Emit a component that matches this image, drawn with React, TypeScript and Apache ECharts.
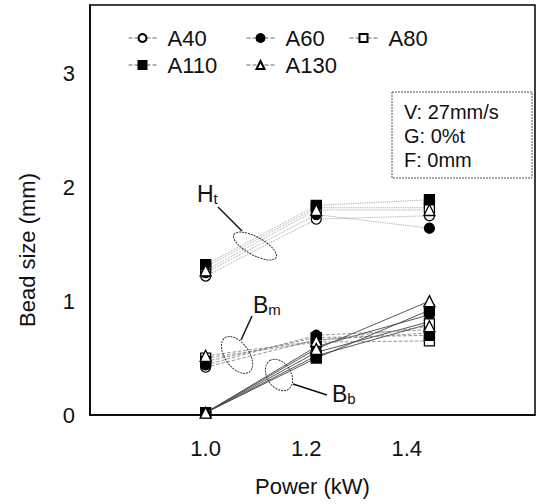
import React, { useEffect, useRef } from "react";
import * as echarts from "echarts";

const powers = [1.0, 1.22, 1.445];
const sampleNames = ["A40", "A60", "A80", "A110", "A130"];
const xTicks = [1.0, 1.2, 1.4];
const yTicks = [0, 1, 2, 3];
// rows follow sampleNames, columns follow powers
const htValues = [
  [1.22, 1.72, 1.75],
  [1.25, 1.76, 1.64],
  [1.3, 1.82, 1.82],
  [1.32, 1.84, 1.89],
  [1.27, 1.8, 1.8],
];
const bmValues = [
  [0.42, 0.66, 0.72],
  [0.44, 0.7, 0.75],
  [0.5, 0.64, 0.65],
  [0.47, 0.68, 0.7],
  [0.52, 0.65, 0.78],
];
const bbValues = [
  [0.02, 0.55, 0.82],
  [0.02, 0.6, 0.88],
  [0.02, 0.52, 0.8],
  [0.02, 0.5, 0.92],
  [0.02, 0.58, 1.0],
];
const boxLines = ["V: 27mm/s", "G: 0%t", "F: 0mm"];

const symbols = ["circle", "circle", "rect", "rect", "triangle"];
const fills = ["#fff", "#000", "#fff", "#000", "#fff"];
const FONT = "Liberation Sans";

export default function App() {
  const ref = useRef<HTMLDivElement>(null);
  useEffect(() => {
    if (!ref.current) return;
    const chart = echarts.init(ref.current, null, { renderer: "svg" });
    const groups = [
      { vals: htValues, color: "#9a9a9a", type: "dotted" },
      { vals: bmValues, color: "#888", type: "dashed" },
      { vals: bbValues, color: "#444", type: "solid" },
    ];
    const series: any[] = [];
    groups.forEach((g) => {
      sampleNames.forEach((name, s) => {
        series.push({
          name,
          type: "line",
          data: powers.map((p, i) => [p, g.vals[s][i]]),
          symbol: symbols[s],
          symbolSize: s === 4 ? 11 : 10,
          itemStyle: { color: fills[s], borderColor: "#000", borderWidth: 1.3 },
          lineStyle: { color: g.color, width: 0.9, type: g.type },
          z: 2 + s,
        });
      });
    });
    const legendPos = [
      { left: 123, top: 22 },
      { left: 241, top: 22 },
      { left: 344, top: 22 },
      { left: 123, top: 49 },
      { left: 241, top: 49 },
    ];
    const legend = sampleNames.map((n, i) => ({
      data: [n],
      left: legendPos[i].left,
      top: legendPos[i].top,
      itemWidth: 28,
      itemHeight: 10,
      itemGap: 8,
      textStyle: { fontFamily: FONT, fontSize: 22, color: "#111", padding: [0, 0, 0, 6] },
      lineStyle: { color: "#666", width: 1, type: "dashed" },
    }));
    chart.setOption({
      animation: false,
      backgroundColor: "#fff",
      grid: {
        left: 90,
        right: 5,
        top: 5,
        bottom: 89,
        show: true,
        borderColor: "#000",
        borderWidth: 1.5,
        backgroundColor: "transparent",
      },
      legend,
      xAxis: {
        type: "value",
        min: 0.77,
        max: 1.655,
        name: "Power (kW)",
        nameLocation: "middle",
        nameGap: 60,
        nameTextStyle: { fontFamily: FONT, fontSize: 22, color: "#111" },
        axisLine: { show: true, lineStyle: { color: "#000", width: 1.5 } },
        axisTick: { show: false },
        splitLine: { show: false },
        axisLabel: {
          customValues: xTicks,
          formatter: (v: number) => v.toFixed(1),
          fontFamily: FONT,
          fontSize: 22,
          color: "#111",
          margin: 22,
        },
      },
      yAxis: {
        type: "value",
        min: 0,
        max: 3.6,
        axisLine: { show: true, lineStyle: { color: "#000", width: 1.5 } },
        axisTick: { show: false },
        splitLine: { show: false },
        axisLabel: {
          customValues: yTicks,
          fontFamily: FONT,
          fontSize: 22,
          color: "#111",
          margin: 15,
        },
      },
      series,
      graphic: [
        {
          type: "text",
          x: 27,
          y: 250,
          rotation: Math.PI / 2,
          style: {
            text: "Bead size (mm)",
            fontFamily: FONT,
            fontSize: 22,
            fill: "#111",
            align: "center",
            verticalAlign: "middle",
          },
          z: 21,
        },
        {
          type: "rect",
          shape: { x: 392, y: 92, width: 140, height: 86 },
          style: { fill: "#fff", stroke: "#555", lineWidth: 1, lineDash: [2, 1] },
          z: 20,
        },
        ...boxLines.map((t, i) => ({
          type: "text",
          x: 404,
          y: 112 + i * 24,
          style: {
            text: t,
            fontFamily: FONT,
            fontSize: 20,
            fill: "#111",
            verticalAlign: "middle",
          },
          z: 21,
        })),
        {
          type: "text",
          x: 197,
          y: 194,
          style: {
            text: "{a|H}{b|t}",
            rich: {
              a: { fontFamily: FONT, fontSize: 23, fill: "#111", verticalAlign: "bottom" },
              b: { fontFamily: FONT, fontSize: 15, fill: "#111", verticalAlign: "bottom" },
            },
            verticalAlign: "middle",
          },
          z: 21,
        },
        { type: "line", shape: { x1: 218, y1: 207, x2: 242, y2: 231 }, style: { stroke: "#111", lineWidth: 1.5 }, z: 21 },
        {
          type: "ellipse",
          x: 255,
          y: 246,
          rotation: -0.5,
          shape: { cx: 0, cy: 0, rx: 24, ry: 9 },
          style: { fill: "none", stroke: "#333", lineWidth: 1, lineDash: [2, 1] },
          z: 21,
        },
        {
          type: "text",
          x: 253,
          y: 305,
          style: {
            text: "{a|B}{b|m}",
            rich: {
              a: { fontFamily: FONT, fontSize: 23, fill: "#111", verticalAlign: "bottom" },
              b: { fontFamily: FONT, fontSize: 15, fill: "#111", verticalAlign: "bottom" },
            },
            verticalAlign: "middle",
          },
          z: 21,
        },
        { type: "line", shape: { x1: 252, y1: 316, x2: 241, y2: 340 }, style: { stroke: "#111", lineWidth: 1.5 }, z: 21 },
        {
          type: "ellipse",
          x: 237,
          y: 355,
          rotation: -0.95,
          shape: { cx: 0, cy: 0, rx: 21, ry: 12 },
          style: { fill: "none", stroke: "#333", lineWidth: 1, lineDash: [2, 1] },
          z: 21,
        },
        {
          type: "text",
          x: 332,
          y: 394,
          style: {
            text: "{a|B}{b|b}",
            rich: {
              a: { fontFamily: FONT, fontSize: 23, fill: "#111", verticalAlign: "bottom" },
              b: { fontFamily: FONT, fontSize: 15, fill: "#111", verticalAlign: "bottom" },
            },
            verticalAlign: "middle",
          },
          z: 21,
        },
        { type: "line", shape: { x1: 327, y1: 395, x2: 293, y2: 384 }, style: { stroke: "#111", lineWidth: 1.5 }, z: 21 },
        {
          type: "ellipse",
          x: 279,
          y: 375,
          rotation: -1.0,
          shape: { cx: 0, cy: 0, rx: 17, ry: 12 },
          style: { fill: "none", stroke: "#333", lineWidth: 1, lineDash: [2, 1] },
          z: 21,
        },
      ],
    });
    return () => chart.dispose();
  }, []);
  return (
    <div
      ref={ref}
      style={{ position: "absolute", left: 0, top: 0, width: 540, height: 504 }}
    />
  );
}
